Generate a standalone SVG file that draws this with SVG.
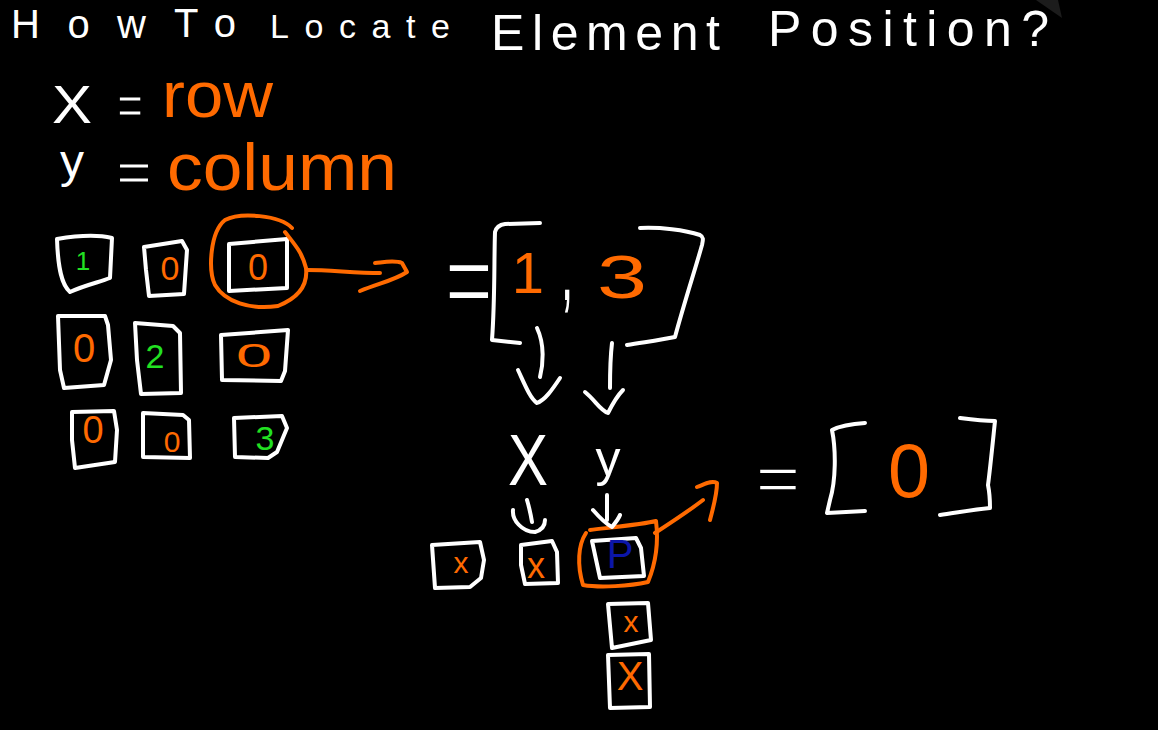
<svg xmlns="http://www.w3.org/2000/svg" width="1158" height="730" viewBox="0 0 1158 730">
<style>
.bg{fill:#000}
.w{fill:none;stroke:#fff;stroke-width:4;stroke-linecap:round;stroke-linejoin:round}
.o{fill:none;stroke:#ff6a00;stroke-width:4;stroke-linecap:round;stroke-linejoin:round}
text{font-family:"Liberation Sans",Arial,sans-serif}
.tw{fill:#fff}
.to{fill:#ff6a00}
.tg{fill:#22e022}
.tb{fill:#0c16a8}
.eq{fill:#fff;font-size:40px;text-anchor:middle;stroke:#000;stroke-width:0.8}
.c{text-anchor:middle}
</style>
<rect class="bg" x="0" y="0" width="1158" height="730"/>
<path d="M1036,0 L1058,0 L1062,18 Z" fill="#1c1c1c"/>

<g id="title">
<text class="tw" x="11" y="38" font-size="40" textLength="135" lengthAdjust="spacing">How</text>
<text class="tw" x="174" y="37" font-size="40" textLength="62" lengthAdjust="spacing">To</text>
<text class="tw" x="270" y="38" font-size="34" textLength="180" lengthAdjust="spacing">Locate</text>
<text class="tw" x="491" y="50" font-size="50" textLength="229" lengthAdjust="spacing">Element</text>
<text class="tw" x="768" y="46" font-size="50" textLength="281" lengthAdjust="spacing">Position?</text>
</g>

<g id="legend">
<text class="tw" x="52" y="123" font-size="54" textLength="40" lengthAdjust="spacingAndGlyphs">X</text>
<text class="eq" transform="translate(130,124) scale(1.1,1.4)">=</text>
<text class="to" x="162" y="117" font-size="64" textLength="111" lengthAdjust="spacingAndGlyphs">row</text>
<text class="tw" x="60" y="177" font-size="46" textLength="24" lengthAdjust="spacingAndGlyphs">y</text>
<text class="eq" transform="translate(134,191) scale(1.5,1.4)">=</text>
<text class="to" x="167" y="190" font-size="66" textLength="230" lengthAdjust="spacingAndGlyphs">column</text>
</g>

<g id="matrix">
<g id="cell-0-0"><path class="w" d="M57,239 C75,236 95,234 112,238 L110,278 C100,282 85,285 70,292 C62,285 58,270 57,239 Z"/><text class="tg c" x="83" y="270" font-size="26">1</text></g>
<g id="cell-0-1"><path class="w" d="M144,247 L182,241 L187,250 L184,294 L149,296 L146,270 Z"/><text class="to c" x="170" y="280" font-size="34">0</text></g>
<g id="cell-0-2"><path class="w" d="M229,244 L287,239 L287,288 L229,291 Z"/><text class="to c" x="258" y="280" font-size="36">0</text></g>
<g id="cell-1-0"><path class="w" d="M58,316 L105,316 L108,325 L111,360 L104,385 L64,388 L60,370 Z"/><text class="to c" x="84" y="362" font-size="40">0</text></g>
<g id="cell-1-1"><path class="w" d="M135,323 L173,326 L180,333 L181,393 L141,394 L137,360 Z"/><text class="tg c" x="155" y="368" font-size="34">2</text></g>
<g id="cell-1-2"><path class="w" d="M221,335 L288,330 L285,371 L281,381 L222,380 Z"/><text class="to" x="236" y="367" font-size="34" textLength="36" lengthAdjust="spacingAndGlyphs">0</text></g>
<g id="cell-2-0"><path class="w" d="M72,412 L114,411 L117,430 L115,462 L75,468 L72,440 Z"/><text class="to c" x="93" y="443" font-size="38">0</text></g>
<g id="cell-2-1"><path class="w" d="M143,413 L183,415 L189,420 L190,458 L143,457 Z"/><text class="to c" x="172" y="452" font-size="30">0</text></g>
<g id="cell-2-2"><path class="w" d="M234,418 L282,416 L287,428 L277,452 L268,458 L235,457 Z"/><text class="tg c" x="265" y="450" font-size="34">3</text></g>
</g>

<g id="highlight-1">
<path class="o" d="M292,228 C280,215 240,212 225,220 C210,232 208,270 215,285 C225,302 250,310 278,306 C298,298 308,285 306,268 C302,252 295,245 285,232"/>
</g>

<g id="index-expr">
<text class="eq" transform="translate(469,317) scale(2.05,2.68)">=</text>
<path class="w" d="M540,223 L505,224 C498,225 496,228 495,232 C494,260 495,300 492,340 L520,343"/>
<text class="to c" x="528" y="293" font-size="58">1</text>
<text class="tw c" transform="translate(567,300) scale(1,2.2)" font-size="44">,</text>
<text class="to" x="597" y="298" font-size="62" textLength="50" lengthAdjust="spacingAndGlyphs">3</text>
<path class="w" d="M640,228 C660,227 685,230 700,235 C704,237 703,240 702,245 C695,270 685,300 675,337 C660,340 645,342 627,345"/>
</g>

<g id="xy-labels">
<text class="tw c" x="528" y="485" font-size="72" textLength="40" lengthAdjust="spacingAndGlyphs">X</text>
<text class="tw c" x="608" y="476" font-size="50">y</text>
</g>

<g id="row-cells">
<g id="cell-a"><path class="w" d="M432,545 L480,542 L484,560 L481,578 L470,587 L435,588 Z"/><text class="to c" x="461" y="573" font-size="30">x</text></g>
<g id="cell-b"><path class="w" d="M521,545 L552,541 L557,552 L558,583 L525,584 L521,565 Z"/><text class="to c" x="536" y="578" font-size="36">x</text></g>
<g id="cell-c"><path class="w" d="M592,541 L636,538 L641,548 L644,576 L600,578 Z"/><text class="tb c" x="620" y="568" font-size="40">P</text></g>
<g id="cell-d"><path class="w" d="M608,604 L648,603 L651,640 L612,648 Z"/><text class="to c" x="631" y="632" font-size="30">x</text></g>
<g id="cell-e"><path class="w" d="M608,655 L649,654 L650,707 L610,708 Z"/><text class="to c" x="630" y="690" font-size="40">X</text></g>
</g>

<g id="highlight-2">
<path class="o" d="M590,530 C615,527 645,524 656,521 C659,545 655,565 648,582 C630,586 600,588 583,585 C577,565 578,545 586,533"/>
</g>

<g id="result-expr">
<text class="eq" transform="translate(778,501) scale(1.9,1.6)">=</text>
<path class="w" d="M865,423 C850,424 840,426 832,430 C836,450 836,480 830,500 L827,513 L865,511"/>
<text class="to c" x="909" y="497" font-size="76" textLength="42" lengthAdjust="spacingAndGlyphs">0</text>
<path class="w" d="M960,418 C975,420 985,421 995,421 C993,440 990,470 988,485 C990,495 990,503 990,508 C970,510 955,513 940,515"/>
</g>

<g id="connectors">
<path class="o" d="M307,270 C330,270 355,273 380,273"/>
<path class="o" d="M375,263 C385,262 395,260 402,263 L407,272 C395,280 380,283 360,291"/>
<path class="w" d="M537,328 C545,345 543,365 540,377"/>
<path class="w" d="M518,370 C525,385 530,398 537,403 C545,400 552,390 560,378"/>
<path class="w" d="M612,343 C610,360 610,375 610,388"/>
<path class="w" d="M585,392 C595,400 600,410 608,413 C612,405 617,396 623,390"/>
<path class="w" d="M527,500 C530,510 531,516 532,522"/>
<path class="w" d="M513,510 C512,520 522,532 535,532 C542,530 545,525 545,520"/>
<path class="w" d="M607,495 L607,520"/>
<path class="w" d="M593,510 C600,518 606,524 612,527 C616,522 619,518 620,515"/>
<path class="o" d="M655,533 C675,520 690,510 703,500"/>
<path class="o" d="M697,487 C705,484 712,480 717,483 C717,495 713,508 710,520"/>
</g>
</svg>
